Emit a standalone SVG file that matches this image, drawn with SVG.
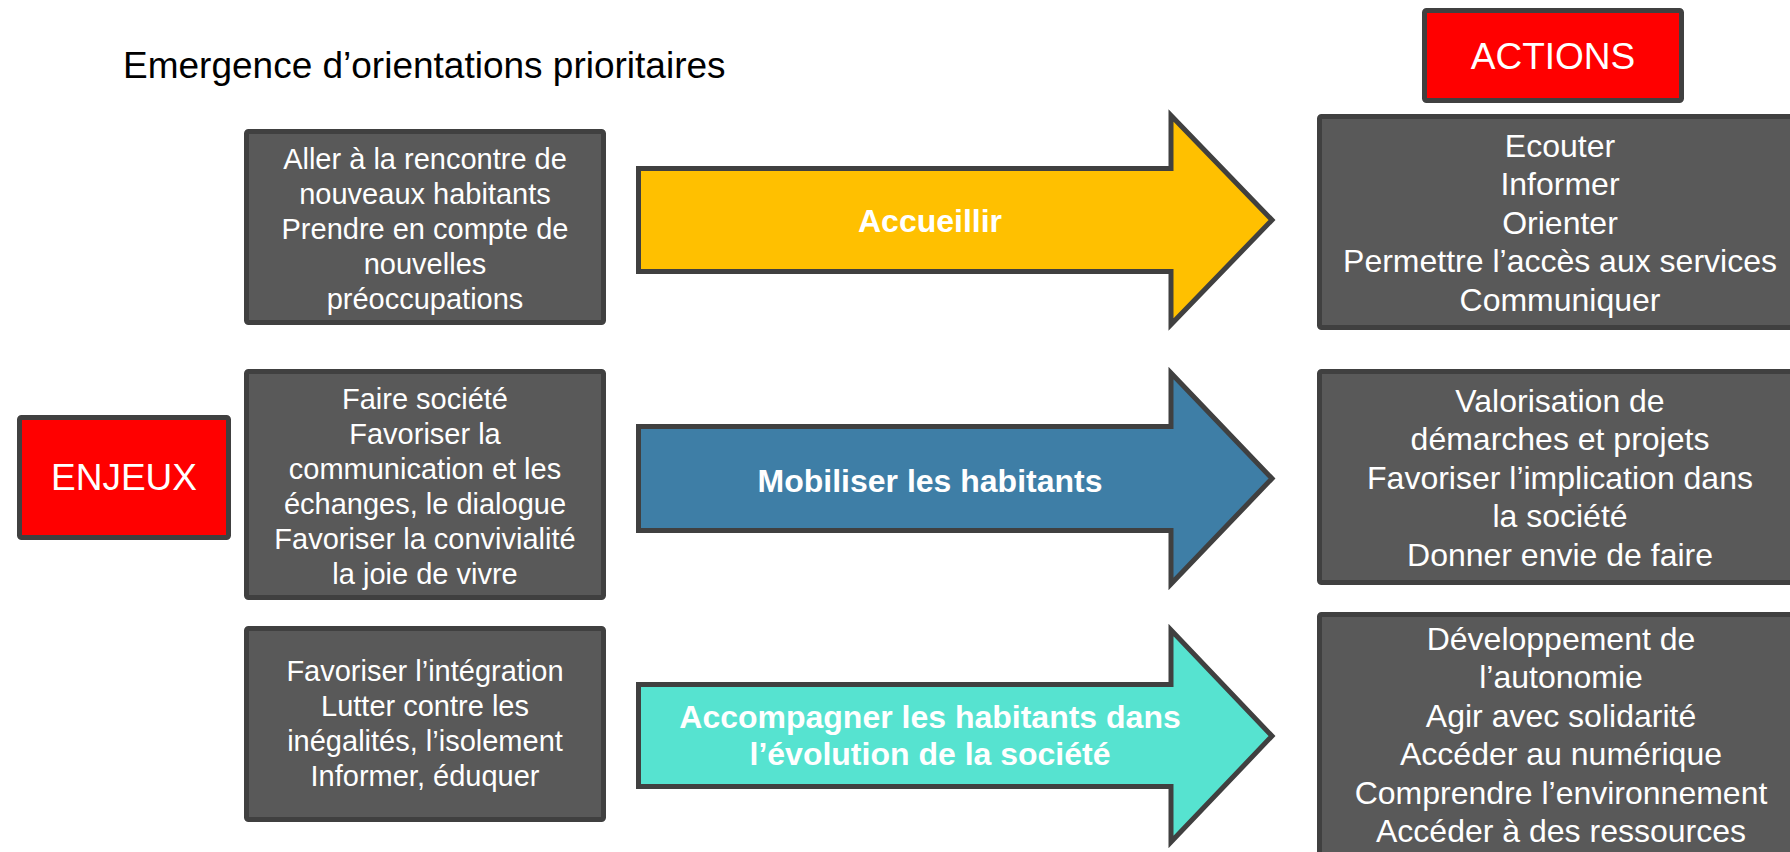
<svg xmlns="http://www.w3.org/2000/svg" width="1790" height="852" viewBox="0 0 1790 852">
<style>
.box{fill:#595959;stroke:#404040;stroke-width:5}
.red{fill:#FF0000;stroke:#404040;stroke-width:5}
.arr{stroke:#404040;stroke-width:5;stroke-linejoin:miter}
.t{font-family:"Liberation Sans",Arial,sans-serif;fill:#FFFFFF;text-anchor:middle}
.l{font-size:29px}
.r{font-size:32px}
.b{font-size:32px;font-weight:bold}
.h{font-size:37px}
</style>
<rect width="1790" height="852" fill="#FFFFFF"/>
<g id="title">
<text x="123" y="78" font-family="Liberation Sans, Arial, sans-serif" font-size="37" fill="#000000">Emergence d’orientations prioritaires</text>
</g>
<g id="actions">
<rect class="red" x="1424.5" y="10.5" width="257" height="90" rx="2"/>
<text class="t h" x="1553" y="69">ACTIONS</text>
</g>
<g id="enjeux">
<rect class="red" x="19.5" y="417.5" width="209" height="120" rx="2"/>
<text class="t h" x="124" y="490">ENJEUX</text>
</g>
<g id="enjeu1">
<rect class="box" x="246.5" y="131.5" width="357" height="191" rx="2"/>
<text class="t l" x="425" y="169">Aller à la rencontre de</text>
<text class="t l" x="425" y="204">nouveaux habitants</text>
<text class="t l" x="425" y="239">Prendre en compte de</text>
<text class="t l" x="425" y="274">nouvelles</text>
<text class="t l" x="425" y="309">préoccupations</text>
</g>
<g id="enjeu2">
<rect class="box" x="246.5" y="371.5" width="357" height="226" rx="2"/>
<text class="t l" x="425" y="409">Faire société</text>
<text class="t l" x="425" y="444">Favoriser la</text>
<text class="t l" x="425" y="479">communication et les</text>
<text class="t l" x="425" y="514">échanges, le dialogue</text>
<text class="t l" x="425" y="549">Favoriser la convivialité</text>
<text class="t l" x="425" y="584">la joie de vivre</text>
</g>
<g id="enjeu3">
<rect class="box" x="246.5" y="628.5" width="357" height="191" rx="2"/>
<text class="t l" x="425" y="681">Favoriser l’intégration</text>
<text class="t l" x="425" y="716">Lutter contre les</text>
<text class="t l" x="425" y="751">inégalités, l’isolement</text>
<text class="t l" x="425" y="786">Informer, éduquer</text>
</g>
<g id="connectors">
<g id="arrow-accueillir">
<path class="arr" fill="#FFC000" d="M638.5,168.5 H1171 V115.5 L1272,220 L1171,324.5 V271.5 H638.5 Z"/>
<text class="t b" x="930" y="232">Accueillir</text>
</g>
<g id="arrow-mobiliser">
<path class="arr" fill="#3E7EA6" d="M638.5,426.5 H1171 V373 L1272,478.5 L1171,584 V530.5 H638.5 Z"/>
<text class="t b" x="930" y="492">Mobiliser les habitants</text>
</g>
<g id="arrow-accompagner">
<path class="arr" fill="#56E3D0" d="M638.5,684.5 H1171 V630 L1272,736 L1171,842 V786.5 H638.5 Z"/>
<text class="t b" x="930" y="728">Accompagner les habitants dans</text>
<text class="t b" x="930" y="765">l’évolution de la société</text>
</g>
</g>
<g id="action1">
<rect class="box" x="1319.5" y="116.5" width="500" height="211" rx="2"/>
<text class="t r" x="1560" y="157">Ecouter</text>
<text class="t r" x="1560" y="195.4">Informer</text>
<text class="t r" x="1560" y="233.8">Orienter</text>
<text class="t r" x="1560" y="272.2">Permettre l’accès aux services</text>
<text class="t r" x="1560" y="310.6">Communiquer</text>
</g>
<g id="action2">
<rect class="box" x="1319.5" y="371.5" width="500" height="211" rx="2"/>
<text class="t r" x="1560" y="412">Valorisation de</text>
<text class="t r" x="1560" y="450.4">démarches et projets</text>
<text class="t r" x="1560" y="488.8">Favoriser l’implication dans</text>
<text class="t r" x="1560" y="527.2">la société</text>
<text class="t r" x="1560" y="565.6">Donner envie de faire</text>
</g>
<g id="action3">
<rect class="box" x="1319.5" y="614.5" width="500" height="300" rx="2"/>
<text class="t r" x="1561" y="650">Développement de</text>
<text class="t r" x="1561" y="688.4">l’autonomie</text>
<text class="t r" x="1561" y="726.8">Agir avec solidarité</text>
<text class="t r" x="1561" y="765.2">Accéder au numérique</text>
<text class="t r" x="1561" y="803.6">Comprendre l’environnement</text>
<text class="t r" x="1561" y="842">Accéder à des ressources</text>
</g>
</svg>
